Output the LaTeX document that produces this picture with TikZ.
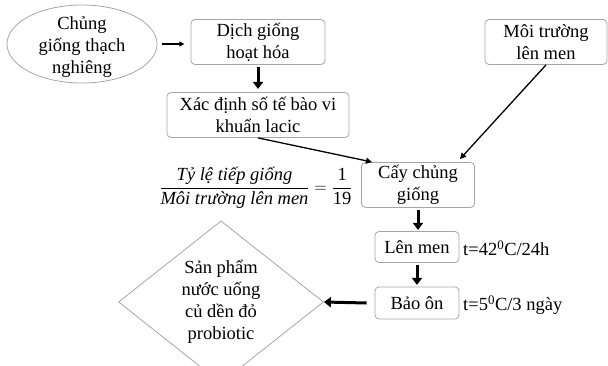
\documentclass[tikz,border=0pt]{standalone}
\usepackage{fontspec}
\setmainfont{Liberation Serif}
\usepackage{amsmath}
\usetikzlibrary{shapes.geometric,arrows.meta}

\begin{document}
\begin{tikzpicture}[
    x=1pt, y=-1pt,
    every node/.style={font=\fontsize{18.5}{22}\selectfont, align=center, inner sep=1pt},
    box/.style={draw=gray!70, rounded corners=4pt, line width=0.8pt},
    oval/.style={draw=gray!70, ellipse, line width=0.8pt},
    decision/.style={draw=gray!70, diamond, line width=0.8pt},
    thickarrow/.style={line width=3pt, -{Triangle[width=10pt,length=7pt]}},
    thinarrow/.style={line width=1.3pt, -{Triangle[width=6pt,length=6pt]}}]
    \useasboundingbox (0,0) rectangle (608,365);
    \node[oval, minimum width=150pt, minimum height=78pt] (chung) at (82,44) {};
    \node (chungtext) at (82,47) {Chủng\\giống thạch\\nghiêng};
    \node[box, minimum width=134pt, minimum height=45pt] (dich) at (258,42) {Dịch giống\\hoạt hóa};
    \node[box, minimum width=182pt, minimum height=45pt] (xac) at (258,115) {Xác định số tế bào vi\\khuẩn lacic};
    \node[box, minimum width=122pt, minimum height=45pt] (moi) at (546,42) {Môi trường\\lên men};
    \node[box, minimum width=113pt, minimum height=45pt] (cay) at (418,185) {Cấy chủng\\giống};
    \node[box, minimum width=84pt, minimum height=31pt] (len) at (417,247) {Lên men};
    \node[box, minimum width=84pt, minimum height=32pt] (bao) at (417,303) {Bảo ôn};
    \node[decision, minimum width=205pt, minimum height=134pt, inner sep=0pt] (sp) at (221,302) {Sản phẩm\\nước uống\\củ dền đỏ\\probiotic};
    \node[anchor=west] (tlen) at (462,248) {t=42\textsuperscript{0}C/24h};
    \node[anchor=west] (tbao) at (462,305) {t=5\textsuperscript{0}C/3 ngày};
    % ti le tiep giong
    \node (tyle) at (256,188) {\fontsize{18.5}{20}\selectfont
      $\dfrac{\text{\itshape Tỷ lệ tiếp giống}}{\text{\itshape Môi trường lên men}}=\dfrac{\text{1}}{\text{19}}$};
    % arrows
    \draw[line width=1.2pt, -{Triangle[width=5pt,length=5pt]}] (chung.east) ++(5,0) coordinate (c1) -- ++(22,0) coordinate (c2);
    \draw[thickarrow] (dich.south) ++(0,2) -- ++(0,22);
    \draw[thinarrow] (xac.south) -- (372,162) coordinate (c3);
    \draw[thinarrow] (moi.south) -- (460,159) coordinate (c4);
    \draw[thickarrow] (cay.south) ++(0,2) -- ++(0,20);
    \draw[thickarrow] (len.south) ++(0,2) -- ++(0,20);
    \draw[thickarrow] (bao.west) ++(-8,0) -- (sp.east);
\end{tikzpicture}
\end{document}
